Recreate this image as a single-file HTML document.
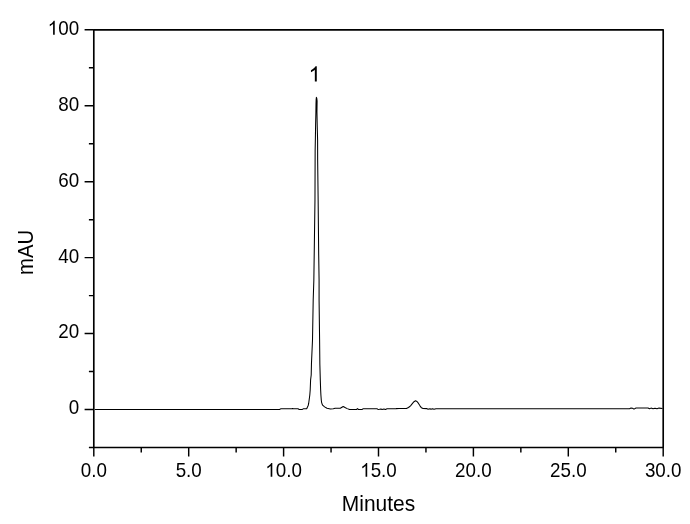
<!DOCTYPE html>
<html><head><meta charset="utf-8"><style>
html,body{margin:0;padding:0;background:#fff;}
svg{display:block;will-change:transform;}
.t{font-family:"Liberation Sans",sans-serif;font-size:20px;fill:#000;}
.a{font-family:"Liberation Sans",sans-serif;font-size:21px;fill:#000;}
.b{font-family:"Liberation Sans",sans-serif;font-size:22px;fill:#000;}
</style></head><body>
<svg width="690" height="524" viewBox="0 0 690 524">
<rect x="93.80" y="29.80" width="569.40" height="417.70" fill="none" stroke="#000" stroke-width="1.65" stroke-linejoin="round"/>
<path d="M88.90 447.50H93.80 M84.60 409.53H93.80 M88.90 371.55H93.80 M84.60 333.58H93.80 M88.90 295.61H93.80 M84.60 257.64H93.80 M88.90 219.66H93.80 M84.60 181.69H93.80 M88.90 143.72H93.80 M84.60 105.75H93.80 M88.90 67.77H93.80 M84.60 29.80H93.80 M93.80 447.50V456.40 M141.25 447.50V452.50 M188.70 447.50V456.40 M236.15 447.50V452.50 M283.60 447.50V456.40 M331.05 447.50V452.50 M378.50 447.50V456.40 M425.95 447.50V452.50 M473.40 447.50V456.40 M520.85 447.50V452.50 M568.30 447.50V456.40 M615.75 447.50V452.50 M663.20 447.50V456.40" stroke="#000" stroke-width="1.45" fill="none"/>
<g transform="translate(79.10 414.43) scale(0.94 1)">
<text x="-11.12" y="0" class="t">0</text>
</g>
<g transform="translate(79.10 338.48) scale(0.94 1)">
<text x="-22.25" y="0" class="t">20</text>
</g>
<g transform="translate(79.10 262.54) scale(0.94 1)">
<text x="-22.25" y="0" class="t">40</text>
</g>
<g transform="translate(79.10 186.59) scale(0.94 1)">
<text x="-22.25" y="0" class="t">60</text>
</g>
<g transform="translate(79.10 110.65) scale(0.94 1)">
<text x="-22.25" y="0" class="t">80</text>
</g>
<g transform="translate(79.10 34.70) scale(0.94 1)">
<path d="M763 0H583V1106Q518 1047 412 987Q307 912 223 875V1060Q374 1133 487 1231Q600 1328 647 1420H763Z" transform="translate(-33.37 0) scale(0.009766 -0.009766)"/>
<text x="-22.25" y="0" class="t">00</text>
</g>
<g transform="translate(93.80 476.80) scale(0.94 1)">
<text x="-13.90" y="0" class="t">0.0</text>
</g>
<g transform="translate(188.70 476.80) scale(0.94 1)">
<text x="-13.90" y="0" class="t">5.0</text>
</g>
<g transform="translate(283.60 476.80) scale(0.94 1)">
<path d="M763 0H583V1106Q518 1047 412 987Q307 912 223 875V1060Q374 1133 487 1231Q600 1328 647 1420H763Z" transform="translate(-19.46 0) scale(0.009766 -0.009766)"/>
<text x="-8.34" y="0" class="t">0.0</text>
</g>
<g transform="translate(378.50 476.80) scale(0.94 1)">
<path d="M763 0H583V1106Q518 1047 412 987Q307 912 223 875V1060Q374 1133 487 1231Q600 1328 647 1420H763Z" transform="translate(-19.46 0) scale(0.009766 -0.009766)"/>
<text x="-8.34" y="0" class="t">5.0</text>
</g>
<g transform="translate(473.40 476.80) scale(0.94 1)">
<text x="-19.46" y="0" class="t">20.0</text>
</g>
<g transform="translate(568.30 476.80) scale(0.94 1)">
<text x="-19.46" y="0" class="t">25.0</text>
</g>
<g transform="translate(663.20 476.80) scale(0.94 1)">
<text x="-19.46" y="0" class="t">30.0</text>
</g>
<text transform="translate(378.5 510.9) scale(0.953 1)" text-anchor="middle" class="b">Minutes</text>
<text transform="translate(32.9 252.4) rotate(-90) scale(0.924 1)" text-anchor="middle" class="b">mAU</text>
<g transform="translate(308.55 81.60) scale(1.0 1)">
<path d="M763 0H583V1106Q518 1047 412 987Q307 912 223 875V1060Q374 1133 487 1231Q600 1328 647 1420H763Z" transform="translate(0.00 0) scale(0.010791 -0.010791)"/>
</g>
<path d="M94.80 409.50 L279.60 409.50 L280.60 408.82 L292.00 408.82 L292.60 408.52 L293.40 408.82 L298.00 408.82 L299.20 409.42 L302.40 409.42 L303.20 408.82 L306.70 408.72 L307.60 406.72 L308.30 405.22 L308.70 403.22 L309.10 400.22 L309.80 395.00 L310.20 390.00 L310.60 380.00 L311.20 375.00 L311.45 364.00 L312.50 340.00 L313.20 300.00 L313.85 280.00 L314.97 200.00 L315.15 150.00 L315.35 140.00 L315.60 125.00 L315.90 112.00 L316.00 104.00 L316.15 99.50 L316.40 97.30 L316.80 98.50 L317.10 101.00 L316.95 112.00 L317.20 125.00 L317.60 140.00 L317.65 160.00 L318.14 200.00 L318.70 255.00 L319.08 280.00 L319.08 300.00 L319.60 340.00 L319.85 364.00 L320.30 380.00 L320.65 390.00 L320.90 395.00 L321.30 400.22 L321.70 402.82 L322.60 405.22 L324.60 406.92 L327.00 408.32 L330.40 408.92 L333.30 408.77 L335.10 408.22 L340.30 408.32 L343.20 406.52 L345.50 407.82 L347.20 408.62 L349.60 409.52 L356.50 409.52 L357.60 408.62 L358.60 409.52 L362.00 409.52 L363.00 408.82 L377.00 408.82 L378.00 409.42 L379.50 409.32 L381.00 409.02 L382.00 409.52 L384.00 408.92 L385.50 409.42 L387.00 408.82 L396.00 408.62 L399.00 408.42 L406.40 408.52 L408.50 407.52 L410.50 405.82 L412.50 403.42 L414.00 401.72 L415.50 400.82 L417.00 401.52 L418.50 403.42 L420.00 405.82 L421.50 407.82 L423.00 408.52 L427.00 408.62 L428.00 409.22 L430.00 408.72 L431.00 409.32 L432.50 408.72 L434.00 409.32 L436.00 408.72 L629.50 408.72 L631.00 408.02 L632.50 408.22 L634.00 409.12 L636.00 408.02 L648.00 408.02 L649.50 408.82 L651.00 408.12 L653.00 408.82 L655.00 408.22 L657.00 408.82 L659.00 408.12 L662.50 408.42" stroke="#000" stroke-width="1.05" fill="none" stroke-linejoin="round"/>
</svg>
</body></html>
